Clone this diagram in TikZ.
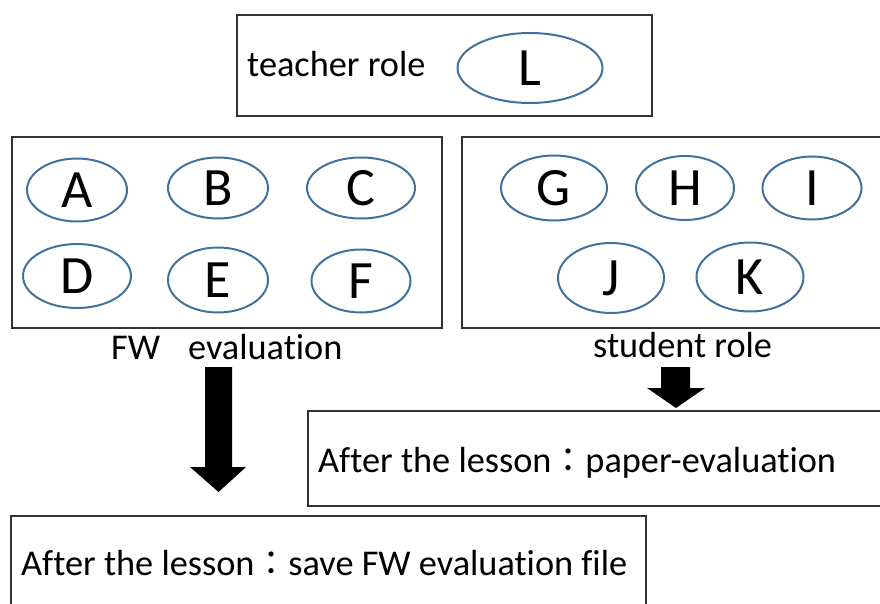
\documentclass[tikz,border=0pt]{standalone}
\usepackage{fontspec}
\setmainfont{Carlito}[Ligatures=NoCommon]
\newfontfamily\cjk{Noto Sans CJK TC}
\usetikzlibrary{shapes.geometric}
\definecolor{ringblue}{HTML}{41719C}
\definecolor{framegray}{HTML}{333333}
% full-width colon between the two halves of a caption
\newcommand{\widecolon}{{\cjk\fontsize{34}{34}\selectfont ：}}

\begin{document}
\begin{tikzpicture}[x=1pt,y=-1pt,
  frame/.style={draw=framegray, line width=1.3pt},
  member/.style={ellipse, draw=ringblue, line width=2pt, inner sep=0pt,
    font=\fontsize{54}{54}\selectfont},
  caption/.style={anchor=base west, inner sep=0pt,
    font=\fontsize{36.3}{36.3}\selectfont},
  blockarrow/.style={fill=black}]
\useasboundingbox (0,0) rectangle (880,604);
\clip (0,0) rectangle (880,604);

% frames
\draw[frame] (237,15) rectangle (652,116);
\draw[frame] (12,137) rectangle (442,328);
\draw[frame] (462,137) rectangle (895,328);
\draw[frame] (308,411) rectangle (895,506);
\draw[frame] (11,516) rectangle (646,620);

% teacher role
\node[caption] (teacher) at (247,77) {teacher role};
\node[member, minimum width=145pt, minimum height=70pt] (L) at (530,68) {L};

% FW evaluation group
\node[member, minimum width=100pt, minimum height=63pt] (A) at (77,190) {A};
\node[member, minimum width=100pt, minimum height=61pt] (B) at (218,188) {B};
\node[member, minimum width=108pt, minimum height=61pt] (C) at (361,188) {C};
\node[member, minimum width=108pt, minimum height=64pt] (D) at (77,276) {D};
\node[member, minimum width=100pt, minimum height=65pt] (E) at (218,280) {E};
\node[member, minimum width=99pt, minimum height=63pt] (F) at (361,281) {F};
\node[caption] (fw) at (111,359) {FW\hspace{28pt}evaluation};

% student role group
\node[member, minimum width=106pt, minimum height=65pt] (G) at (554,188) {G};
\node[member, minimum width=98pt, minimum height=64pt] (H) at (685,188) {H};
\node[member, minimum width=99pt, minimum height=63pt] (I) at (812,188) {I};
\node[member, minimum width=106pt, minimum height=70pt] (J) at (611,278) {J};
\node[member, minimum width=107pt, minimum height=69pt] (K) at (750,277) {K};
\node[caption] (student) at (593,357) {student role};

% after the lesson
\node[caption] (paper) at (318,472) {After the lesson\widecolon paper-evaluation};
\node[caption] (save) at (21,575) {After the lesson\widecolon save FW evaluation file};

% block arrows
\fill[blockarrow] (205,367) -- (232,367) -- (232,467) -- (246,467) -- (218.5,492)
  -- (190,467) -- (205,467) -- cycle;
\fill[blockarrow] (661,367) -- (690,367) -- (690,388) -- (705,388) -- (676,408)
  -- (647,388) -- (661,388) -- cycle;
\end{tikzpicture}
\end{document}
